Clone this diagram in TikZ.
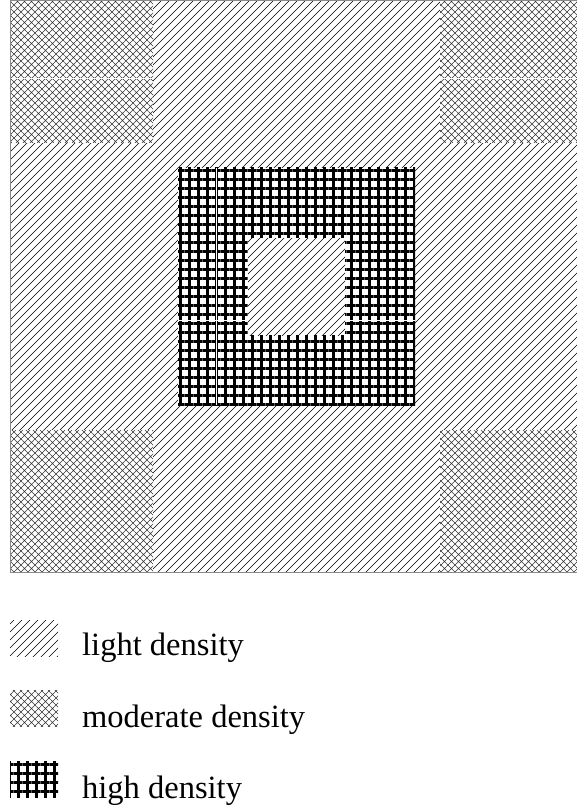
\documentclass[tikz,border=0pt]{standalone}
\usepackage{fontspec}
\setmainfont{Liberation Serif}
\usepackage{tikz}
\usetikzlibrary{patterns.meta,positioning}
\usepackage{xcolor}
\definecolor{frame}{HTML}{8A8A8A}
\tikzset{
  lightfill/.style={preaction={fill=white}, pattern={Lines[angle=45,distance=5.657pt,line width=0.65pt]}, pattern color=black},
  modfill/.style={preaction={fill=white}, pattern={Hatch[angle=45,distance=4.95pt,line width=0.55pt]}, pattern color=black!80},
  highfill/.style={preaction={fill=white}, pattern={Hatch[angle=0,distance=9pt,line width=3pt]}, pattern color=black},
  seam/.style={draw=white, line width=0.9pt},
  keybox/.style={minimum width=48pt, minimum height=36pt, inner sep=0pt, anchor=south west},
  keytext/.style={font=\fontsize{32.5}{39}\selectfont, inner sep=0pt, anchor=base west}
}

\begin{document}
\begin{tikzpicture}[x=1pt, y=-1pt]
  \useasboundingbox (0,0) rectangle (577,810);
  % density map
  \path[lightfill] (10,0) rectangle (577,572);
  \path[modfill] (10,0) rectangle (153,143);
  \path[modfill] (440,0) rectangle (577,143);
  \path[modfill] (10,430) rectangle (153,572);
  \path[modfill] (440,430) rectangle (577,572);
  \path[highfill] (178,168) rectangle (415,405);
  \draw[seam] (216,168) -- (216,405);
  \draw[seam] (178,320) -- (415,320);
  \draw[seam] (10,78) -- (153,78);
  \draw[seam] (440,78) -- (577,78);
  \path[lightfill] (248,238) rectangle (345,335);
  \draw[frame, line width=0.8pt] (10,0) rectangle (577,572);
  % legend
  \node[keybox, pattern={Lines[angle=45,distance=5.657pt,line width=0.65pt]}] (keylight) at (10,657) {};
  \node[keybox, pattern={Hatch[angle=45,distance=4.95pt,line width=0.55pt]}, pattern color=black!80] (keymod) at (10,727) {};
  \node[keybox, pattern={Hatch[angle=0,distance=9pt,line width=3pt]}] (keyhigh) at (10,798) {};
  \node[keytext] (txtlight) at (82,655) {light density};
  \node[keytext] (txtmod) at (82,727) {moderate density};
  \node[keytext] (txthigh) at (82,798) {high density};
\end{tikzpicture}
\end{document}
